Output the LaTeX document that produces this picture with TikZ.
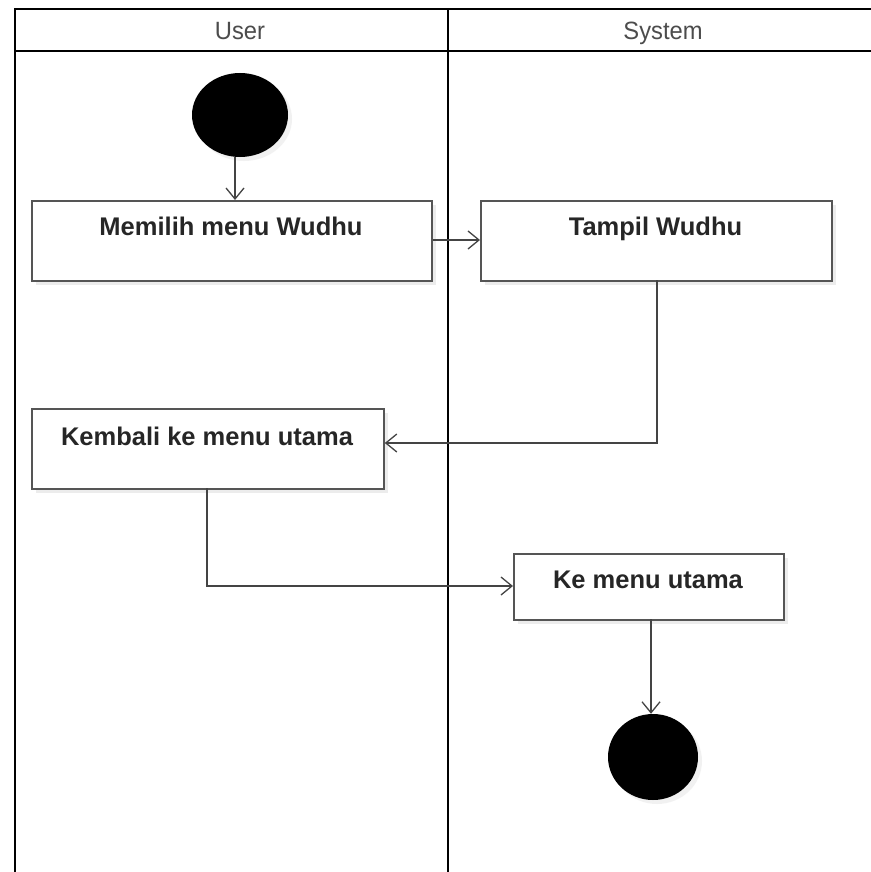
\documentclass[tikz,border=0pt]{standalone}
\usepackage{fontspec}
\setmainfont{Liberation Sans}
\usetikzlibrary{arrows.meta,shadows,shapes.geometric}
\definecolor{edge}{HTML}{444444}
\definecolor{boxline}{HTML}{555555}
\tikzset{
  act/.style={draw=boxline, line width=1.8pt, fill=white, anchor=north west, inner sep=0pt,
    drop shadow={shadow xshift=4pt, shadow yshift=-4pt, fill=black!12, opacity=0.6}},
  acttext/.style={font=\bfseries\fontsize{25.5}{30}\selectfont, text=black!85, anchor=base, inner sep=0pt},
  lanetext/.style={font=\fontsize{25}{30}\selectfont, text=black!70, xscale=0.95, anchor=base, inner sep=0pt},
  flow/.style={draw=edge, line width=1.3pt, -{Straight Barb[length=11pt,width=18pt,line width=1.3pt]}},
  lane/.style={draw=black, line width=2.6pt},
  dot/.style={draw=none, fill=black, ellipse, inner sep=0pt,
    drop shadow={shadow xshift=4pt, shadow yshift=-4pt, fill=black!10, opacity=0.5}},
}
\begin{document}
\begin{tikzpicture}[x=1pt,y=-1pt]
\useasboundingbox (0,0) rectangle (870,872);
\fill[white] (0,0) rectangle (870,872);
% swimlanes
\draw[lane] (15,880) -- (15,9) -- (880,9);
\draw[lane] (15,51) -- (880,51);
\draw[lane] (448,9) -- (448,880);
\node[lanetext] (hu) at (240,40) {User};
\node[lanetext] (hs) at (663,40) {System};
% start
\node[dot, minimum width=96pt, minimum height=84pt] (start) at (240,115) {};
% activities
\node[act, minimum width=400pt, minimum height=80pt] (a1) at (31,200) {};
\node[acttext] (t1) at (231,235) {Memilih menu Wudhu};
\node[act, minimum width=351pt, minimum height=80pt] (a2) at (480,200) {};
\node[acttext] (t2) at (655.5,235) {Tampil Wudhu};
\node[act, minimum width=352pt, minimum height=80pt] (a3) at (31,408) {};
\node[acttext] (t3) at (207,445) {Kembali ke menu utama};
\node[act, minimum width=270pt, minimum height=66pt] (a4) at (513,553) {};
\node[acttext] (t4) at (648,588) {Ke menu utama};
% end
\node[dot, minimum width=90pt, minimum height=86pt] (end) at (653,757) {};
% connectors
\coordinate (s1) at (235,157);
\coordinate (s1e) at (235,200);
\draw[flow] (s1) -- (s1e);
\draw[flow] (a1.east |- 0,240) -- (a2.west |- 0,240);
\draw[flow] (657,280) -- (657,443) -- (a3.east |- 0,443);
\draw[flow] (207,488) -- (207,586) -- (a4.west |- 0,586);
\draw[flow] (651,619) -- (end.north -| 651,0);
\end{tikzpicture}
\end{document}
